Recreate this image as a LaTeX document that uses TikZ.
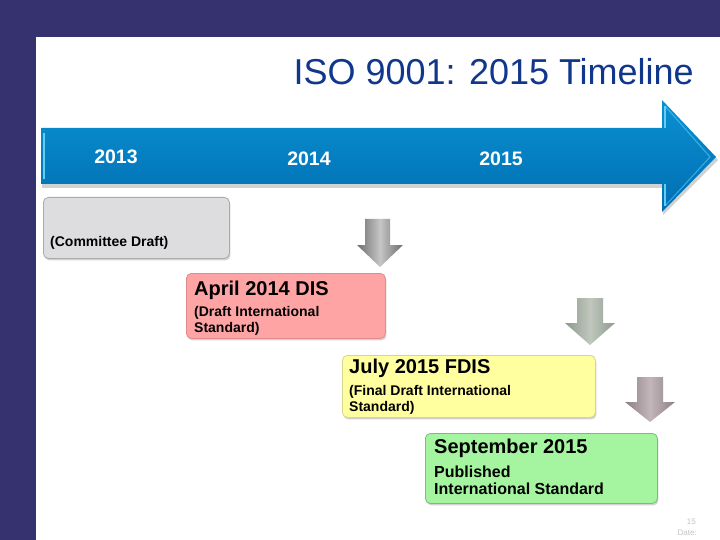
\documentclass[tikz,border=0pt]{standalone}
\usepackage{fontspec}
\setmainfont{Liberation Sans}
\usetikzlibrary{shadows}
\definecolor{bgpurple}{RGB}{54,50,112}
\definecolor{titleblue}{RGB}{16,55,140}
\definecolor{arrowtop}{RGB}{10,145,210}
\definecolor{arrowbot}{RGB}{0,110,178}
\definecolor{arrowhl}{RGB}{100,205,245}
\definecolor{cdfill}{RGB}{221,221,223}
\definecolor{cddraw}{RGB}{170,170,172}
\definecolor{disfill}{RGB}{255,164,164}
\definecolor{disdraw}{RGB}{225,140,140}
\definecolor{fdisfill}{RGB}{255,255,160}
\definecolor{fdisdraw}{RGB}{215,215,140}
\definecolor{isfill}{RGB}{165,245,160}
\definecolor{isdraw}{RGB}{120,190,120}
\definecolor{pagegray}{RGB}{195,195,195}
\tikzset{
  box/.style={draw, line width=0.8pt, rounded corners=5pt, anchor=north west, inner sep=0pt,
    drop shadow={shadow xshift=1pt, shadow yshift=-2pt, opacity=0.35}},
  lbl/.style={anchor=base west, inner sep=0pt, align=left},
  titlefont/.style={font=\fontsize{20}{24}\selectfont\bfseries},
  subfont/.style={font=\fontsize{14}{16}\selectfont\bfseries},
  yearfont/.style={font=\fontsize{19.5}{22}\selectfont\bfseries, text=white, anchor=base, inner sep=0pt},
  downarr/.style={line width=0pt},
}
\begin{document}
\begin{tikzpicture}[x=1pt,y=-1pt]
\useasboundingbox (0,0) rectangle (720,540);
\fill[bgpurple] (0,0) rectangle (720,540);
\fill[white] (36,37) rectangle (720,540);

% title
\node[anchor=base east, inner sep=0pt, text=titleblue, font=\fontsize{36}{40}\selectfont] (title) at (694,85) {ISO 9001: 2015 Timeline};

% main arrow shadow
\fill[black, opacity=0.18] (42,131) -- (663,131) -- (663,103) -- (718,160) -- (663,215) -- (663,188) -- (42,188) -- cycle;
% main arrow
\shade[top color=arrowtop, bottom color=arrowbot] (41,128) -- (662,128) -- (662,100) -- (716,157) -- (662,212) -- (662,184) -- (41,184) -- cycle;
\draw[arrowhl, line width=2pt] (44,133) -- (44,179);
\draw[arrowhl, line width=1.5pt] (665,106) -- (665,128);
\draw[arrowhl, line width=1.5pt] (665,184) -- (665,206);
\draw[arrowhl, opacity=0.6, line width=1pt] (665,106) -- (710,157) -- (665,206);

\node[yearfont] (y2013) at (116,164) {2013};
\node[yearfont] (y2014) at (309,166) {2014};
\node[yearfont] (y2015) at (501,166) {2015};

% boxes
\node[box, fill=cdfill, draw=cddraw, minimum width=186pt, minimum height=61pt] (cd) at (43,197) {};
\node[box, fill=disfill, draw=disdraw, minimum width=199pt, minimum height=65pt] (dis) at (186,273) {};
\node[box, fill=fdisfill, draw=fdisdraw, minimum width=253pt, minimum height=62pt] (fdis) at (342,355) {};
\node[box, fill=isfill, draw=isdraw, minimum width=232pt, minimum height=70pt] (is) at (425,433) {};

% box texts
\node[lbl, subfont] (cdtxt) at (50,246) {(Committee Draft)};
\node[lbl, titlefont] (distitle) at (194,295) {April 2014 DIS};
\node[lbl, subfont] (dis1) at (194,316) {(Draft International};
\node[lbl, subfont] (dis2) at (194,332) {Standard)};
\node[lbl, titlefont] (fdistitle) at (349,373) {July 2015 FDIS};
\node[lbl, subfont] (fdis1) at (349,395) {(Final Draft International};
\node[lbl, subfont] (fdis2) at (349,411) {Standard)};
\node[lbl, titlefont] (istitle) at (434,453) {September 2015};
\node[lbl, font=\fontsize{16}{18}\selectfont\bfseries] (is1) at (434,477) {Published};
\node[lbl, font=\fontsize{16}{18}\selectfont\bfseries] (is2) at (434,494) {International Standard};

% down arrows
\shade[left color=gray!85!black, right color=gray!85!black, middle color=gray!45, downarr]
  (365,219) -- (390,219) -- (390,245) -- (403,245) -- (380,267) -- (357,245) -- (365,245) -- cycle;
\shade[left color={rgb,255:red,140;green,152;blue,139}, right color={rgb,255:red,140;green,152;blue,139}, middle color={rgb,255:red,192;green,200;blue,190}, downarr]
  (577,298) -- (603,298) -- (603,323) -- (615,323) -- (590,345) -- (565,323) -- (577,323) -- cycle;
\shade[left color={rgb,255:red,140;green,128;blue,133}, right color={rgb,255:red,140;green,128;blue,133}, middle color={rgb,255:red,194;green,182;blue,186}, downarr]
  (637,377) -- (663,377) -- (663,402) -- (675,402) -- (650,422) -- (625,402) -- (637,402) -- cycle;

% page footer
\node[anchor=base east, inner sep=0pt, text=pagegray, font=\fontsize{8}{9}\selectfont] (pnum) at (696,524) {15};
\node[anchor=base east, inner sep=0pt, text=pagegray, font=\fontsize{8}{9}\selectfont] (pdate) at (697,535) {Date:};
\end{tikzpicture}
\end{document}
